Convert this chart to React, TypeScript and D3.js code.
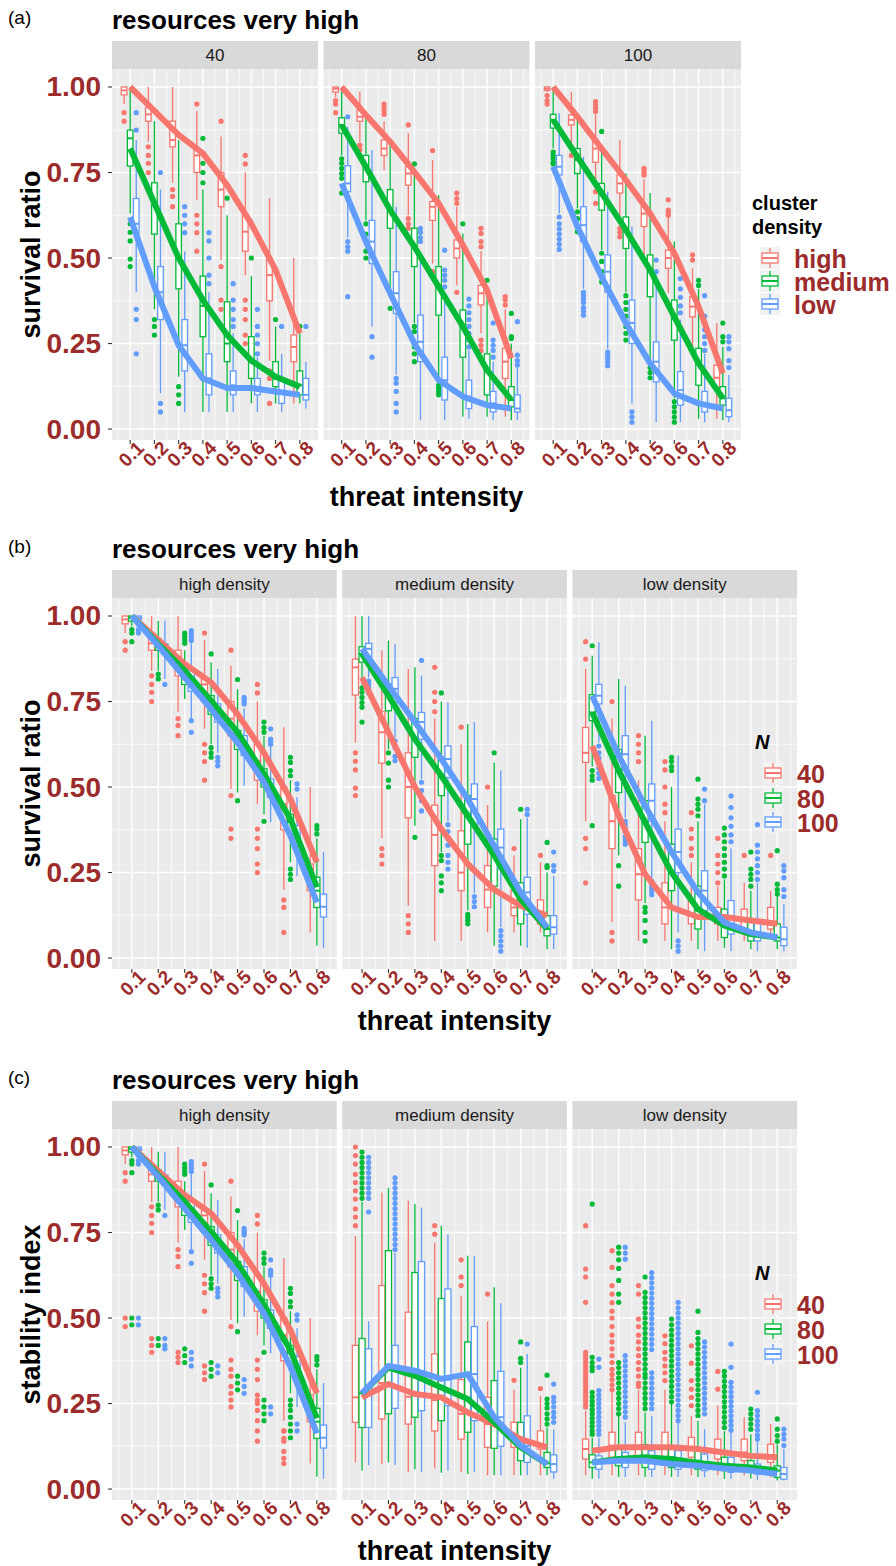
import React from 'react';
import * as d3 from 'd3';

type Box = [number, number, number, number, number]; // lower whisker, q1, median, q3, upper whisker

const threat = [0.1, 0.2, 0.3, 0.4, 0.5, 0.6, 0.7, 0.8];
const xTickLabels = ['0.1', '0.2', '0.3', '0.4', '0.5', '0.6', '0.7', '0.8'];
const yTicks = [0, 0.25, 0.5, 0.75, 1];
const yTickLabels = ['0.00', '0.25', '0.50', '0.75', '1.00'];
const densityLevels = ['high', 'medium', 'low'];
const densityStrips = ['high density', 'medium density', 'low density'];
const sizeLevels = ['40', '80', '100'];
const palette = ['#F8766D', '#00BA38', '#619CFF'];

// ---------- survival ratio, high density ----------
const survHigh40Box: Box[] = [
  [0.95, 0.977, 0.99, 1.0, 1.0], [0.84, 0.9, 0.92, 0.94, 1.0], [0.72, 0.825, 0.845, 0.9, 1.0], [0.67, 0.75, 0.8, 0.82, 0.93],
  [0.494, 0.65, 0.7, 0.75, 0.855], [0.45, 0.52, 0.577, 0.625, 0.75], [0.2, 0.375, 0.45, 0.5, 0.675], [0.075, 0.197, 0.24, 0.275, 0.5],
];
const survHigh40Out = [[0.925, 0.9], [0.825, 0.8, 0.777, 0.75], [0.7, 0.68, 0.65], [0.95, 0.625, 0.6, 0.574, 0.52],
  [0.9, 0.475, 0.377, 0.35], [0.8, 0.775, 0.377, 0.35, 0.32, 0.275, 0.25], [0.17, 0.148, 0.075], []];
const survHigh40Mean = [1.0, 0.93, 0.86, 0.806, 0.713, 0.6, 0.465, 0.28];

const survHigh80Box: Box[] = [
  [0.97, 0.985, 0.995, 1.0, 1.0], [0.84, 0.9, 0.913, 0.933, 0.986], [0.757, 0.8, 0.82, 0.845, 0.9], [0.625, 0.713, 0.747, 0.767, 0.865],
  [0.484, 0.61, 0.65, 0.665, 0.786], [0.42, 0.5, 0.528, 0.553, 0.65], [0.28, 0.363, 0.397, 0.42, 0.52], [0.036, 0.148, 0.197, 0.236, 0.35],
];
const survHigh80Out = [[0.96, 0.95, 0.925], [0.83, 0.816], [0.95, 0.94, 0.93, 0.92], [0.889, 0.615, 0.6, 0.587],
  [0.814, 0.46], [0.69, 0.674, 0.66, 0.4], [0.587, 0.572, 0.548, 0.533, 0.26, 0.245, 0.23], [0.387, 0.377, 0.363]];
const survHigh80Mean = [1.0, 0.918, 0.84, 0.752, 0.66, 0.538, 0.406, 0.207];

const survHigh100Box: Box[] = [
  [0.985, 0.99, 0.995, 1.0, 1.0], [0.816, 0.889, 0.904, 0.918, 0.986], [0.7, 0.78, 0.82, 0.84, 0.92], [0.6, 0.69, 0.718, 0.743, 0.845],
  [0.504, 0.592, 0.63, 0.65, 0.73], [0.397, 0.47, 0.5, 0.523, 0.62], [0.24, 0.328, 0.358, 0.387, 0.47], [0.03, 0.12, 0.15, 0.187, 0.31],
];
const survHigh100Out = [[0.975, 0.96, 0.95], [0.8], [0.957, 0.947, 0.938, 0.928, 0.694, 0.66], [0.587, 0.575, 0.562],
  [0.762, 0.755, 0.749, 0.743], [0.67, 0.64, 0.632, 0.625], [0.509, 0.494], []];
const survHigh100Mean = [1.0, 0.913, 0.82, 0.728, 0.63, 0.514, 0.358, 0.163];

// ---------- survival ratio, medium density ----------
const survMed40Box: Box[] = [
  [0.63, 0.769, 0.85, 0.874, 1.0], [0.35, 0.57, 0.66, 0.72, 0.9], [0.153, 0.41, 0.5, 0.6, 0.845], [0.05, 0.27, 0.36, 0.447, 0.7],
  [0.05, 0.197, 0.25, 0.372, 0.625], [0.075, 0.148, 0.2, 0.27, 0.447], [0.075, 0.124, 0.148, 0.197, 0.3], [0.075, 0.1, 0.128, 0.17, 0.28],
];
const survMed40Out = [[0.6, 0.575, 0.55, 0.497, 0.475], [0.32, 0.3, 0.275], [0.124, 0.1, 0.075], [0.85, 0.777, 0.75, 0.72],
  [0.675], [0.5], [0.32], [0.3]];
const survMed40Mean = [0.82, 0.66, 0.5, 0.377, 0.275, 0.2, 0.153, 0.124];

const survMed80Box: Box[] = [
  [0.8, 0.865, 0.889, 0.91, 1.0], [0.61, 0.723, 0.767, 0.8, 0.928], [0.387, 0.587, 0.64, 0.7, 0.85], [0.31, 0.475, 0.533, 0.587, 0.75],
  [0.14, 0.333, 0.416, 0.475, 0.684], [0.036, 0.21, 0.3, 0.348, 0.572], [0.036, 0.1, 0.172, 0.22, 0.406], [0.026, 0.065, 0.085, 0.124, 0.25],
];
const survMed80Out = [[0.79, 0.777, 0.762, 0.747, 0.733, 0.69], [0.6, 0.57, 0.52, 0.5], [0.353], [0.775, 0.3, 0.285, 0.24, 0.22, 0.197],
  [0.128, 0.12, 0.11, 0.1], [0.6], [0.435], [0.338, 0.27, 0.265]];
const survMed80Mean = [0.889, 0.767, 0.64, 0.533, 0.416, 0.3, 0.172, 0.085];

const survMed100Box: Box[] = [
  [0.82, 0.88, 0.904, 0.92, 1.0], [0.645, 0.747, 0.787, 0.82, 0.918], [0.523, 0.64, 0.69, 0.718, 0.826], [0.4, 0.528, 0.582, 0.62, 0.748],
  [0.19, 0.387, 0.465, 0.509, 0.69], [0.09, 0.26, 0.323, 0.377, 0.548], [0.03, 0.128, 0.192, 0.236, 0.41], [0.026, 0.07, 0.09, 0.124, 0.24],
];
const survMed100Out = [[0.81, 0.8, 0.79, 0.78, 0.775], [0.635, 0.615, 0.59, 0.577], [0.87, 0.514, 0.49, 0.46, 0.43],
  [0.39, 0.37, 0.35, 0.33, 0.3, 0.28, 0.26], [0.18, 0.165, 0.15], [0.08, 0.065, 0.05, 0.035, 0.02], [0.435, 0.42], [0.31, 0.27, 0.255]];
const survMed100Mean = [0.904, 0.796, 0.69, 0.582, 0.465, 0.328, 0.192, 0.09];

// ---------- survival ratio, low density ----------
const survLow40Box: Box[] = [
  [0.4, 0.572, 0.6, 0.674, 0.845], [0.105, 0.32, 0.4, 0.475, 0.7], [0.05, 0.17, 0.245, 0.32, 0.52], [0.05, 0.1, 0.148, 0.22, 0.4],
  [0.05, 0.1, 0.128, 0.17, 0.28], [0.05, 0.1, 0.12, 0.148, 0.21], [0.05, 0.075, 0.11, 0.143, 0.22], [0.06, 0.085, 0.1, 0.148, 0.197],
];
const survLow40Out = [[0.925, 0.874, 0.35, 0.32, 0.22], [0.75, 0.075, 0.05], [0.65, 0.625, 0.6, 0.574], [0.574, 0.55, 0.5, 0.45, 0.425],
  [0.425, 0.377, 0.35, 0.32, 0.3], [0.35, 0.3, 0.275, 0.25, 0.22], [0.3], [0.3]];
const survLow40Mean = [0.62, 0.416, 0.245, 0.148, 0.12, 0.12, 0.11, 0.1];

const survLow80Box: Box[] = [
  [0.56, 0.694, 0.718, 0.77, 0.884], [0.3, 0.484, 0.548, 0.61, 0.816], [0.16, 0.338, 0.397, 0.46, 0.65], [0.026, 0.197, 0.255, 0.333, 0.5],
  [0.026, 0.085, 0.143, 0.21, 0.4], [0.03, 0.06, 0.095, 0.143, 0.23], [0.026, 0.05, 0.075, 0.11, 0.197], [0.026, 0.05, 0.06, 0.1, 0.18],
];
const survLow80Out = [[0.913, 0.548, 0.533, 0.52, 0.387], [0.27, 0.21], [0.148, 0.134, 0.11, 0.075, 0.05], [0.587, 0.575, 0.56, 0.548],
  [0.523, 0.465, 0.45, 0.435, 0.416], [0.38, 0.36, 0.34, 0.32, 0.3, 0.28, 0.26, 0.24], [0.31, 0.26, 0.245, 0.23, 0.21], [0.314, 0.216, 0.2, 0.187]];
const survLow80Mean = [0.718, 0.548, 0.397, 0.25, 0.143, 0.095, 0.07, 0.06];

const survLow100Box: Box[] = [
  [0.63, 0.743, 0.767, 0.8, 0.923], [0.41, 0.548, 0.596, 0.65, 0.796], [0.235, 0.4, 0.46, 0.509, 0.694], [0.075, 0.25, 0.31, 0.377, 0.592],
  [0.02, 0.138, 0.197, 0.255, 0.45], [0.02, 0.07, 0.114, 0.168, 0.32], [0.02, 0.05, 0.075, 0.11, 0.22], [0.02, 0.036, 0.055, 0.09, 0.158],
];
const survLow100Out = [[0.62, 0.6, 0.585, 0.57, 0.555, 0.54, 0.525], [0.4, 0.39, 0.38, 0.37, 0.355, 0.345, 0.333],
  [0.225, 0.215, 0.205, 0.195, 0.185], [0.05, 0.035, 0.02], [0.494, 0.46], [0.474, 0.44, 0.41, 0.385, 0.36, 0.34],
  [0.39, 0.33, 0.31, 0.29, 0.27, 0.25, 0.23], [0.27, 0.255, 0.235, 0.2, 0.18]];
const survLow100Mean = [0.767, 0.592, 0.445, 0.31, 0.192, 0.104, 0.075, 0.06];

// ---------- stability index, high density: same boxes plus a low cluster of points ----------
const stabHigh40Extra = [[0.5, 0.475], [0.44, 0.42, 0.4], [0.4, 0.385, 0.37], [0.36, 0.34, 0.32], [0.33, 0.3, 0.28, 0.26, 0.24],
  [0.26, 0.23, 0.2, 0.17, 0.14], [0.17, 0.14, 0.11, 0.09], []];
const stabHigh80Extra = [[0.5, 0.48], [0.44, 0.42], [0.41, 0.39, 0.37], [0.37, 0.35, 0.33], [0.33, 0.31, 0.29],
  [0.26, 0.24, 0.22, 0.2], [0.21, 0.19, 0.17, 0.15], []];
const stabHigh100Extra = [[0.5, 0.48], [0.44, 0.42, 0.41], [0.4, 0.38, 0.36], [0.36, 0.34], [0.32, 0.3, 0.28],
  [0.24, 0.22], [0.19, 0.17], []];

// ---------- stability index, medium density ----------
const stabMed40Box: Box[] = [
  [0.078, 0.195, 0.268, 0.42, 0.74], [0.073, 0.205, 0.31, 0.595, 0.867], [0.05, 0.19, 0.27, 0.517, 0.843], [0.06, 0.17, 0.26, 0.395, 0.72],
  [0.05, 0.146, 0.22, 0.32, 0.565], [0.04, 0.122, 0.19, 0.268, 0.49], [0.04, 0.122, 0.145, 0.195, 0.29], [0.04, 0.117, 0.125, 0.17, 0.273],
];
const stabMed40Out = [[1.0, 0.975, 0.95, 0.92, 0.896, 0.872, 0.848, 0.819, 0.795, 0.77], [], [], [0.77, 0.745],
  [0.67, 0.62, 0.595], [0.57], [0.318], [0.294]];
const stabMed40Mean = [0.268, 0.307, 0.278, 0.268, 0.224, 0.19, 0.146, 0.122];

const stabMed80Box: Box[] = [
  [0.054, 0.18, 0.28, 0.44, 0.84], [0.078, 0.22, 0.36, 0.697, 0.88], [0.058, 0.21, 0.33, 0.633, 0.833], [0.048, 0.2, 0.3, 0.557, 0.77],
  [0.044, 0.166, 0.26, 0.43, 0.682], [0.04, 0.119, 0.19, 0.317, 0.59], [0.04, 0.083, 0.12, 0.195, 0.355], [0.04, 0.063, 0.075, 0.107, 0.18],
];
const stabMed80Out = [[0.985, 0.97, 0.955, 0.94, 0.925, 0.91, 0.895, 0.88, 0.865, 0.85], [], [], [], [], [],
  [0.43, 0.382, 0.37], [0.333, 0.263, 0.25, 0.237, 0.22, 0.205, 0.19]];
const stabMed80Mean = [0.28, 0.356, 0.331, 0.297, 0.263, 0.195, 0.122, 0.073];

const stabMed100Box: Box[] = [
  [0.07, 0.18, 0.28, 0.41, 0.49], [0.07, 0.236, 0.36, 0.42, 0.69], [0.05, 0.229, 0.345, 0.665, 0.823], [0.054, 0.244, 0.32, 0.585, 0.745],
  [0.05, 0.2, 0.336, 0.475, 0.682], [0.04, 0.125, 0.21, 0.344, 0.543], [0.04, 0.078, 0.127, 0.214, 0.395], [0.03, 0.05, 0.073, 0.1, 0.175],
];
const stabMed100Out = [[0.97, 0.955, 0.94, 0.925, 0.91, 0.895, 0.88, 0.865, 0.85, 0.81],
  [0.91, 0.895, 0.88, 0.865, 0.85, 0.835, 0.82, 0.805, 0.79, 0.775, 0.76, 0.745, 0.73, 0.715, 0.7], [], [], [], [],
  [0.424], [0.307, 0.268, 0.255, 0.24, 0.224, 0.21, 0.195]];
const stabMed100Mean = [0.28, 0.36, 0.346, 0.322, 0.336, 0.21, 0.127, 0.073];

// ---------- stability index, low density ----------
const stabLow40Box: Box[] = [
  [0.04, 0.088, 0.117, 0.146, 0.229], [0.04, 0.093, 0.127, 0.166, 0.283], [0.04, 0.093, 0.127, 0.166, 0.29], [0.04, 0.093, 0.122, 0.166, 0.29],
  [0.04, 0.093, 0.117, 0.151, 0.214], [0.04, 0.088, 0.112, 0.146, 0.244], [0.04, 0.083, 0.107, 0.146, 0.209], [0.034, 0.078, 0.097, 0.131, 0.19],
];
const stabLow40Out = [
  [0.77, 0.643, 0.62, 0.546, 0.4, 0.39, 0.38, 0.37, 0.36, 0.35, 0.34, 0.33, 0.32, 0.31, 0.3, 0.29, 0.28, 0.27, 0.26, 0.25, 0.24],
  [0.697, 0.648, 0.595, 0.57, 0.545, 0.52, 0.5, 0.475, 0.45, 0.43, 0.41, 0.39, 0.37, 0.35, 0.335, 0.32, 0.305, 0.29],
  [0.595, 0.57, 0.497, 0.475, 0.45, 0.43, 0.41, 0.39, 0.37, 0.35, 0.33, 0.31, 0.3],
  [0.448, 0.425, 0.4, 0.38, 0.36, 0.34, 0.317], [0.419, 0.368, 0.317, 0.292, 0.268, 0.244], [0.344, 0.292], [], []];
const stabLow40Mean = [0.112, 0.122, 0.122, 0.122, 0.117, 0.107, 0.097, 0.093];

const stabLow80Box: Box[] = [
  [0.03, 0.063, 0.078, 0.1, 0.15], [0.035, 0.068, 0.088, 0.122, 0.214], [0.035, 0.063, 0.093, 0.13, 0.224], [0.035, 0.063, 0.093, 0.127, 0.25],
  [0.035, 0.058, 0.083, 0.117, 0.2], [0.03, 0.054, 0.073, 0.093, 0.17], [0.03, 0.049, 0.063, 0.083, 0.16], [0.025, 0.034, 0.054, 0.068, 0.13],
];
const stabLow80Out = [
  [0.833, 0.385, 0.37, 0.357, 0.346, 0.283, 0.27, 0.257, 0.245, 0.232, 0.22, 0.207, 0.195, 0.183, 0.17, 0.16],
  [0.707, 0.69, 0.67, 0.645, 0.61, 0.57, 0.546, 0.37, 0.355, 0.34, 0.325, 0.31, 0.295, 0.28, 0.265, 0.25, 0.235, 0.22],
  [0.62, 0.575, 0.56, 0.545, 0.53, 0.515, 0.5, 0.485, 0.47, 0.455, 0.44, 0.425, 0.41, 0.395, 0.38, 0.365, 0.35, 0.336, 0.326, 0.31, 0.295, 0.28, 0.265, 0.25, 0.235],
  [0.497, 0.48, 0.465, 0.45, 0.435, 0.42, 0.405, 0.39, 0.375, 0.36, 0.345, 0.33, 0.315, 0.3, 0.285, 0.27, 0.255],
  [0.52, 0.458, 0.44, 0.425, 0.41, 0.395, 0.38, 0.365, 0.35, 0.335, 0.32, 0.305, 0.29, 0.275, 0.26, 0.245, 0.23, 0.215],
  [0.344, 0.33, 0.315, 0.3, 0.285, 0.27, 0.255, 0.24, 0.225, 0.21, 0.195, 0.18],
  [0.234, 0.22, 0.205, 0.19, 0.175], [0.205, 0.175, 0.156, 0.14]];
const stabLow80Mean = [0.078, 0.088, 0.093, 0.088, 0.076, 0.068, 0.063, 0.054];

const stabLow100Box: Box[] = [
  [0.03, 0.058, 0.078, 0.097, 0.15], [0.035, 0.063, 0.083, 0.107, 0.195], [0.035, 0.058, 0.083, 0.112, 0.214], [0.035, 0.058, 0.083, 0.112, 0.195],
  [0.035, 0.054, 0.073, 0.102, 0.175], [0.03, 0.049, 0.068, 0.093, 0.166], [0.027, 0.044, 0.056, 0.073, 0.141], [0.025, 0.029, 0.044, 0.063, 0.117],
];
const stabLow100Out = [
  [0.38, 0.356, 0.288, 0.275, 0.262, 0.25, 0.237, 0.224, 0.21, 0.197, 0.185, 0.172, 0.16],
  [0.707, 0.69, 0.672, 0.39, 0.375, 0.36, 0.345, 0.33, 0.315, 0.3, 0.285, 0.27, 0.255, 0.24, 0.225, 0.21],
  [0.633, 0.618, 0.603, 0.588, 0.573, 0.558, 0.543, 0.528, 0.513, 0.498, 0.483, 0.468, 0.453, 0.438, 0.423, 0.408, 0.34, 0.325, 0.31, 0.295, 0.28, 0.265, 0.25, 0.235],
  [0.546, 0.53, 0.515, 0.5, 0.485, 0.47, 0.455, 0.44, 0.425, 0.41, 0.395, 0.38, 0.365, 0.35, 0.335, 0.32, 0.305, 0.29, 0.275, 0.26, 0.245, 0.23, 0.215, 0.2],
  [0.43, 0.415, 0.4, 0.385, 0.37, 0.355, 0.34, 0.325, 0.31, 0.295, 0.28, 0.265, 0.25, 0.235, 0.22],
  [0.424, 0.356, 0.312, 0.298, 0.284, 0.27, 0.256, 0.242, 0.228, 0.214, 0.2, 0.186, 0.172],
  [0.283, 0.229, 0.215, 0.2, 0.186, 0.172, 0.158, 0.146], [0.175, 0.16, 0.146, 0.127]];
const stabLow100Mean = [0.078, 0.083, 0.083, 0.073, 0.068, 0.06, 0.054, 0.044];

// lookup tables built from the arrays above: [density][N]
type Series = { box: Box[]; out: number[][]; mean: number[] };
const survival: Series[][] = [
  [{ box: survHigh40Box, out: survHigh40Out, mean: survHigh40Mean }, { box: survHigh80Box, out: survHigh80Out, mean: survHigh80Mean },
    { box: survHigh100Box, out: survHigh100Out, mean: survHigh100Mean }],
  [{ box: survMed40Box, out: survMed40Out, mean: survMed40Mean }, { box: survMed80Box, out: survMed80Out, mean: survMed80Mean },
    { box: survMed100Box, out: survMed100Out, mean: survMed100Mean }],
  [{ box: survLow40Box, out: survLow40Out, mean: survLow40Mean }, { box: survLow80Box, out: survLow80Out, mean: survLow80Mean },
    { box: survLow100Box, out: survLow100Out, mean: survLow100Mean }],
];
const highExtras = [stabHigh40Extra, stabHigh80Extra, stabHigh100Extra];
const stability: Series[][] = [
  survival[0].map((s, k) => ({ box: s.box, mean: s.mean, out: s.out.map((o, i) => o.concat(highExtras[k][i])) })),
  [{ box: stabMed40Box, out: stabMed40Out, mean: stabMed40Mean }, { box: stabMed80Box, out: stabMed80Out, mean: stabMed80Mean },
    { box: stabMed100Box, out: stabMed100Out, mean: stabMed100Mean }],
  [{ box: stabLow40Box, out: stabLow40Out, mean: stabLow40Mean }, { box: stabLow80Box, out: stabLow80Out, mean: stabLow80Mean },
    { box: stabLow100Box, out: stabLow100Out, mean: stabLow100Mean }],
];

const FONT = '"Liberation Sans", Arial, Helvetica, sans-serif';
const RED_TXT = '#9C2C2C';
const X_DOMAIN: [number, number] = [0.025, 0.875];
const Y_DOMAIN: [number, number] = [-0.032, 1.0526];

function Panel({ x0, y0, w, h, strip, groups, yAxis }: {
  x0: number; y0: number; w: number; h: number; strip: string; groups: Series[]; yAxis: boolean;
}) {
  const x = d3.scaleLinear().domain(X_DOMAIN).range([x0, x0 + w]);
  const y = d3.scaleLinear().domain(Y_DOMAIN).range([y0 + h, y0]);
  const half = x(0.0115) - x(0);
  const line = d3.line<number>().x((_, i) => x(threat[i])).y(d => y(d));
  const minorX = threat.map(t => t - 0.05).concat([0.85]);
  const minorY = [0.125, 0.375, 0.625, 0.875];
  const bottom = y0 + h;

  return (
    <g>
      <rect x={x0} y={y0 - 28} width={w} height={28} fill="#D9D9D9" />
      <text x={x0 + w / 2} y={y0 - 14} textAnchor="middle" dominantBaseline="central" fontSize={17} fill="#1A1A1A">{strip}</text>
      <rect x={x0} y={y0} width={w} height={h} fill="#EBEBEB" />
      {minorY.map(v => <line key={'my' + v} x1={x0} x2={x0 + w} y1={y(v)} y2={y(v)} stroke="#fff" strokeWidth={0.7} />)}
      {minorX.map(v => <line key={'mx' + v} x1={x(v)} x2={x(v)} y1={y0} y2={bottom} stroke="#fff" strokeWidth={0.7} />)}
      {yTicks.map(v => <line key={'gy' + v} x1={x0} x2={x0 + w} y1={y(v)} y2={y(v)} stroke="#fff" strokeWidth={1.4} />)}
      {threat.map(v => <line key={'gx' + v} x1={x(v)} x2={x(v)} y1={y0} y2={bottom} stroke="#fff" strokeWidth={1.4} />)}

      {groups.map((s, k) => (
        <g key={'g' + k}>
          {s.box.map((b, i) => {
            const cx = x(threat[i] + (k - 1) * 0.025);
            const col = palette[k];
            return (
              <g key={i}>
                {s.out[i].map((o, j) => <circle key={j} cx={cx} cy={y(o)} r={2.6} fill={col} />)}
                <line x1={cx} x2={cx} y1={y(b[3])} y2={y(b[4])} stroke={col} strokeWidth={1.3} />
                <line x1={cx} x2={cx} y1={y(b[1])} y2={y(b[0])} stroke={col} strokeWidth={1.3} />
                <rect x={cx - half} y={y(b[3])} width={half * 2} height={Math.max(0.5, y(b[1]) - y(b[3]))}
                  fill="#fff" stroke={col} strokeWidth={1.3} />
                <line x1={cx - half} x2={cx + half} y1={y(b[2])} y2={y(b[2])} stroke={col} strokeWidth={2} />
              </g>
            );
          })}
        </g>
      ))}
      {groups.map((s, k) => (
        <path key={'l' + k} d={line(s.mean) || ''} fill="none" stroke={palette[k]} strokeWidth={6} strokeLinejoin="round" />
      ))}

      {threat.map((v, i) => (
        <g key={'xt' + i}>
          <line x1={x(v)} x2={x(v)} y1={bottom} y2={bottom + 4} stroke="#333" strokeWidth={1.1} />
          <text transform={`translate(${x(v) + 1},${bottom + 14}) rotate(-45)`} textAnchor="middle" dominantBaseline="central"
            fontSize={19} fontWeight="bold" fill={RED_TXT}>{xTickLabels[i]}</text>
        </g>
      ))}
      {yAxis && yTicks.map((v, i) => (
        <g key={'yt' + i}>
          <line x1={x0 - 4} x2={x0} y1={y(v)} y2={y(v)} stroke="#333" strokeWidth={1.1} />
          <text x={x0 - 11} y={y(v)} textAnchor="end" dominantBaseline="central" fontSize={28} fontWeight="bold" fill={RED_TXT}>
            {yTickLabels[i]}
          </text>
        </g>
      ))}
    </g>
  );
}

function LegendKey({ x, cy, color }: { x: number; cy: number; color: string }) {
  return (
    <g>
      <rect x={x} y={cy - 11} width={20} height={22} fill="#F2F2F2" />
      <line x1={x + 10} x2={x + 10} y1={cy - 10} y2={cy + 10} stroke={color} strokeWidth={1.3} />
      <rect x={x + 2} y={cy - 5} width={16} height={10} fill="#fff" stroke={color} strokeWidth={1.3} />
      <line x1={x + 2} x2={x + 18} y1={cy} y2={cy} stroke={color} strokeWidth={2} />
    </g>
  );
}

type RowCfg = {
  tag: string; top: number; w: number; gap: number; strips: string[]; groupsFor: (f: number) => Series[]; xTitleDy: number;
  yTitle: string; legendTitle: string[]; legendItalic: boolean; legendLabels: string[]; legendY: number[]; legendX: number;
};

function Row({ cfg }: { cfg: RowCfg }) {
  const h = 371;
  const x0s = [0, 1, 2].map(f => 112 + f * (cfg.w + cfg.gap));
  const right = x0s[2] + cfg.w;
  return (
    <g>
      <text x={8} y={cfg.top - 52} dominantBaseline="central" fontSize={19} fill="#000">{cfg.tag}</text>
      <text x={112} y={cfg.top - 40} fontSize={26} fontWeight="bold" fill="#000">resources very high</text>
      {x0s.map((x0, f) => (
        <Panel key={f} x0={x0} y0={cfg.top} w={cfg.w} h={h} strip={cfg.strips[f]} groups={cfg.groupsFor(f)} yAxis={f === 0} />
      ))}
      <text transform={`translate(31,${cfg.top + h / 2}) rotate(-90)`} textAnchor="middle" dominantBaseline="central"
        fontSize={27} fontWeight="bold" fill="#000">{cfg.yTitle}</text>
      <text x={(112 + right) / 2} y={cfg.top + h + cfg.xTitleDy} textAnchor="middle" fontSize={27} fontWeight="bold" fill="#000">
        threat intensity
      </text>
      {cfg.legendTitle.map((t, i) => (
        <text key={t} x={cfg.legendX - 8} y={cfg.legendY[0] - 48 + i * 24 + (cfg.legendTitle.length === 1 ? 24 : 0)}
          fontSize={20} fontWeight="bold" fontStyle={cfg.legendItalic ? 'italic' : 'normal'} fill="#000">{t}</text>
      ))}
      {cfg.legendLabels.map((lab, k) => (
        <g key={lab}>
          <LegendKey x={cfg.legendX} cy={cfg.legendY[k]} color={palette[k]} />
          <text x={cfg.legendX + 34} y={cfg.legendY[k] + 1} dominantBaseline="central" fontSize={25} fontWeight="bold" fill={RED_TXT}>{lab}</text>
        </g>
      ))}
    </g>
  );
}

const rows: RowCfg[] = [
  {
    tag: '(a)', top: 69, w: 206, gap: 5.5, strips: sizeLevels, groupsFor: f => [0, 1, 2].map(d => survival[d][f]), xTitleDy: 66,
    yTitle: 'survival ratio', legendTitle: ['cluster', 'density'], legendItalic: false, legendLabels: densityLevels,
    legendY: [258, 281, 304], legendX: 760,
  },
  {
    tag: '(b)', top: 598, w: 224.7, gap: 5.5, strips: densityStrips, groupsFor: f => [0, 1, 2].map(n => survival[f][n]), xTitleDy: 61,
    yTitle: 'survival ratio', legendTitle: ['N'], legendItalic: true, legendLabels: sizeLevels,
    legendY: [773, 798, 822], legendX: 763,
  },
  {
    tag: '(c)', top: 1129, w: 224.7, gap: 5.5, strips: densityStrips, groupsFor: f => [0, 1, 2].map(n => stability[f][n]), xTitleDy: 60,
    yTitle: 'stability index', legendTitle: ['N'], legendItalic: true, legendLabels: sizeLevels,
    legendY: [1304, 1329, 1354], legendX: 763,
  },
];

export default function App() {
  return (
    <svg width={896} height={1566} style={{ display: 'block', position: 'absolute', left: 0, top: 0, background: '#fff' }}
      fontFamily={FONT}>
      {rows.map(r => <Row key={r.tag} cfg={r} />)}
    </svg>
  );
}
